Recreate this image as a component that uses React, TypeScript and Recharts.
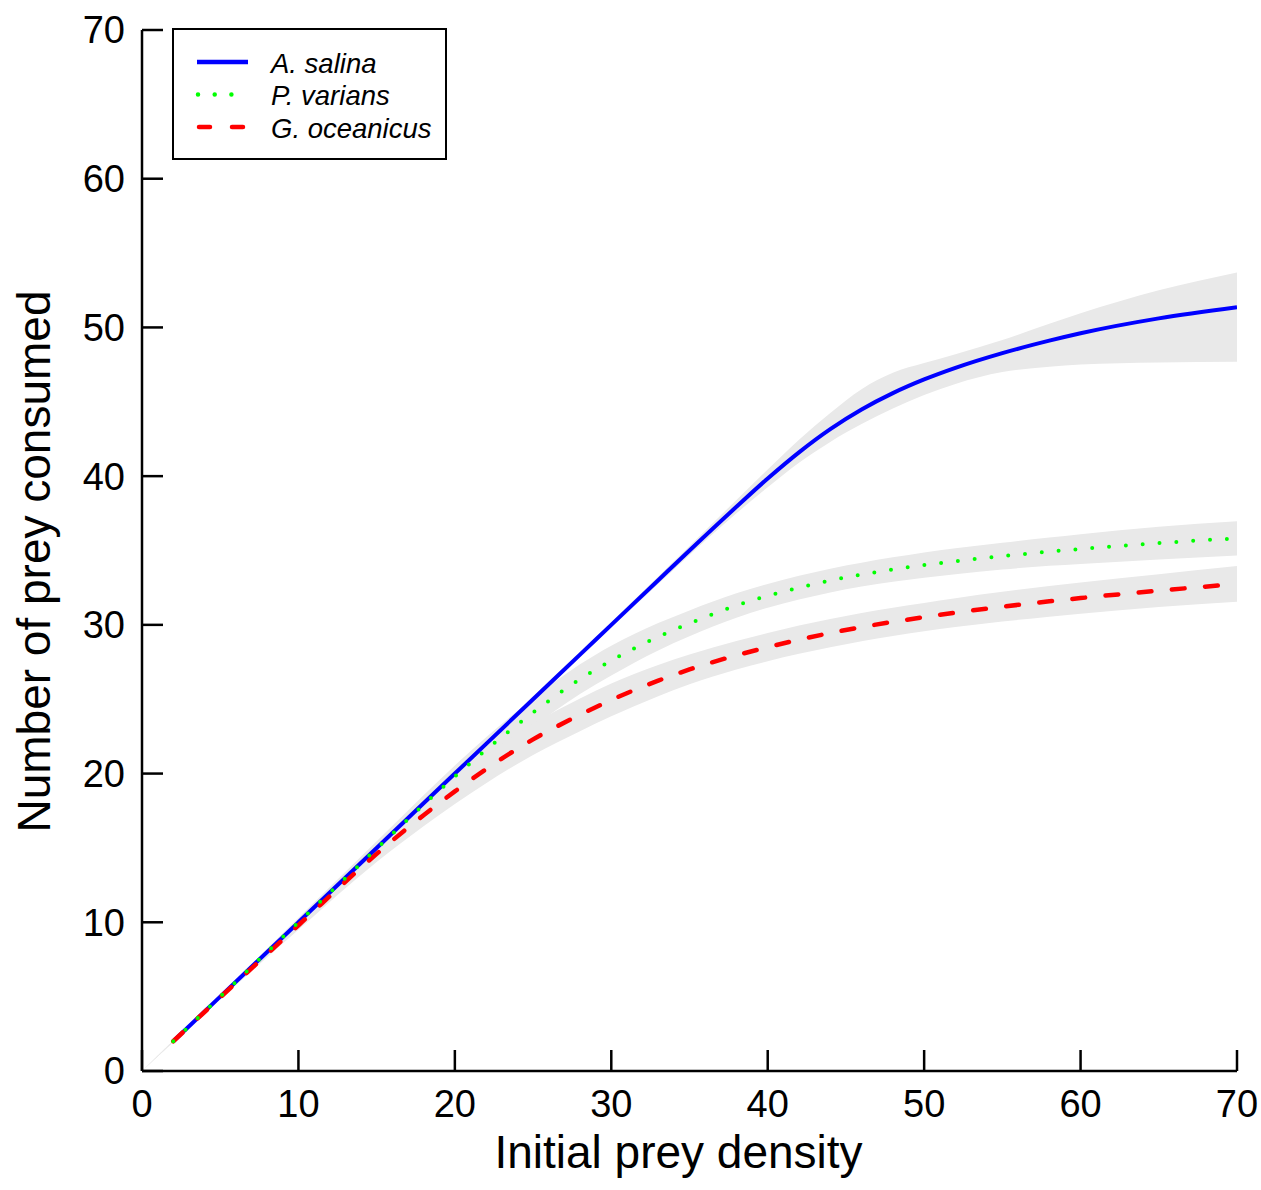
import React from 'react';
import { ComposedChart, Line, Area, XAxis, YAxis, Legend } from 'recharts';

// Initial prey density (x)
const densities = [0, 2, 5, 10, 15, 18, 20, 22, 25, 28, 30, 33, 35, 38, 40, 42, 44, 46, 48, 50, 52, 55, 58, 60, 65, 70];

// A. salina fitted curve and confidence band
const aSalina = [null, 2, 5, 10, 15, 18, 20, 22, 25, 28, 30, 33, 35, 37.94, 39.84, 41.6, 43.16, 44.48, 45.58, 46.5, 47.28, 48.27, 49.11, 49.61, 50.61, 51.36];
const aSalinaLo = [0, 1.95, 4.9, 9.85, 14.8, 17.8, 19.8, 21.8, 24.8, 27.8, 29.8, 32.75, 34.7, 37.5, 39.25, 40.9, 42.3, 43.5, 44.55, 45.45, 46.2, 47.0, 47.35, 47.5, 47.65, 47.7];
const aSalinaHi = [0, 2.05, 5.1, 10.15, 15.2, 18.2, 20.2, 22.2, 25.2, 28.2, 30.2, 33.25, 35.3, 38.4, 40.45, 42.45, 44.25, 45.85, 46.95, 47.6, 48.2, 49.15, 50.25, 50.95, 52.5, 53.7];

// P. varians fitted curve and confidence band
const pVarians = [null, 2, 5, 10, 14.95, 17.9, 19.8, 21.6, 24.1, 26.35, 27.6, 29.2, 30.1, 31.3, 31.95, 32.5, 32.98, 33.38, 33.72, 34.02, 34.28, 34.62, 34.92, 35.1, 35.5, 35.82];
const pVariansLo = [0, 1.95, 4.88, 9.7, 14.45, 17.25, 19.05, 20.75, 23.15, 25.35, 26.6, 28.28, 29.23, 30.48, 31.15, 31.7, 32.18, 32.58, 32.9, 33.17, 33.41, 33.72, 33.97, 34.1, 34.4, 34.67];
const pVariansHi = [0, 2.05, 5.12, 10.3, 15.45, 18.55, 20.55, 22.45, 25.05, 27.35, 28.6, 30.12, 30.97, 32.12, 32.75, 33.3, 33.78, 34.18, 34.54, 34.87, 35.15, 35.52, 35.87, 36.1, 36.6, 36.97];

// G. oceanicus fitted curve and confidence band
const gOceanicus = [null, 2, 4.95, 9.8, 14.6, 17.2, 18.8, 20.3, 22.3, 23.95, 24.95, 26.25, 27.0, 27.95, 28.5, 29.0, 29.45, 29.85, 30.2, 30.52, 30.82, 31.22, 31.58, 31.8, 32.3, 32.75];
const gOceanicusLo = [0, 1.95, 4.83, 9.5, 14.05, 16.45, 17.95, 19.35, 21.25, 22.85, 23.85, 25.2, 26.0, 26.99, 27.55, 28.05, 28.5, 28.9, 29.25, 29.57, 29.85, 30.22, 30.55, 30.75, 31.2, 31.55];
const gOceanicusHi = [0, 2.05, 5.07, 10.1, 15.15, 17.95, 19.65, 21.25, 23.35, 25.05, 26.05, 27.3, 28.0, 28.91, 29.45, 29.95, 30.4, 30.8, 31.15, 31.47, 31.79, 32.22, 32.61, 32.85, 33.4, 33.95];

const xTicks = [0, 10, 20, 30, 40, 50, 60, 70];
const yTicks = [0, 10, 20, 30, 40, 50, 60, 70];

const legendItems = [
  { name: 'A. salina', color: '#0000ff', dash: undefined as string | undefined, cap: 'butt' as const, x1: 25, x2: 76 },
  { name: 'P. varians', color: '#00ff00', dash: '0 16.7', cap: 'round' as const, x1: 26, x2: 60.5 },
  { name: 'G. oceanicus', color: '#ff0000', dash: '11 22', cap: 'round' as const, x1: 27, x2: 72 },
];

const rows = densities.map((x, i) => ({
  x,
  aSalina: aSalina[i],
  pVarians: pVarians[i],
  gOceanicus: gOceanicus[i],
  aSalinaBand: [aSalinaLo[i], aSalinaHi[i]],
  pVariansBand: [pVariansLo[i], pVariansHi[i]],
  gOceanicusBand: [gOceanicusLo[i], gOceanicusHi[i]],
}));

const FONT = '"Liberation Sans", Arial, Helvetica, sans-serif';
const BAND = '#e9e9e9';

const XTitle = (props: any) => {
  const vb = props.viewBox || {};
  const cx = vb.x + vb.width / 2 - 11;
  const y = vb.y + 97;
  return (
    <text x={cx} y={y} textAnchor="middle" fontSize={46} fontFamily={FONT} fill="#000">
      Initial prey density
    </text>
  );
};

const YTitle = (props: any) => {
  const vb = props.viewBox || {};
  const cy = vb.y + vb.height / 2 + 11;
  const x = 50;
  return (
    <text x={x} y={cy} textAnchor="middle" fontSize={46} fontFamily={FONT} fill="#000" transform={`rotate(-90, ${x}, ${cy})`}>
      Number of prey consumed
    </text>
  );
};

const LegendBox = () => (
  <svg width={276} height={132} style={{ display: 'block' }}>
    <rect x={1} y={1} width={273} height={130} fill="#fff" stroke="#000" strokeWidth={2} />
    {legendItems.map((s, i) => (
      <g key={s.name}>
        <line
          x1={s.x1}
          x2={s.x2}
          y1={34 + i * 32.5}
          y2={34 + i * 32.5}
          stroke={s.color}
          strokeWidth={4.5}
          strokeDasharray={s.dash}
          strokeLinecap={s.cap}
        />
        <text x={99} y={44.5 + i * 32.5} fontSize={27.5} fontStyle="italic" fontFamily={FONT} fill="#000">
          {s.name}
        </text>
      </g>
    ))}
  </svg>
);

export default function App() {
  return (
    <div style={{ position: 'absolute', left: 0, top: 0, width: 1261, height: 1190, background: '#fff' }}>
      <ComposedChart
        width={1261}
        height={1190}
        data={rows}
        margin={{ top: 30, right: 24, bottom: 0, left: 0 }}
      >
        <XAxis
          type="number"
          dataKey="x"
          domain={[0, 70]}
          ticks={xTicks}
          interval={0}
          height={119}
          tickSize={-21}
          tickMargin={40}
          allowDataOverflow
          axisLine={{ stroke: '#000', strokeWidth: 2.5 }}
          tickLine={{ stroke: '#000', strokeWidth: 2.5 }}
          tick={{ fontSize: 38, fill: '#000', fontFamily: FONT }}
          label={<XTitle />}
        />
        <YAxis
          type="number"
          domain={[0, 70]}
          ticks={yTicks}
          interval={0}
          width={142}
          tickSize={-21}
          tickMargin={38}
          allowDataOverflow
          axisLine={{ stroke: '#000', strokeWidth: 2.5 }}
          tickLine={{ stroke: '#000', strokeWidth: 2.5 }}
          tick={{ fontSize: 38, fill: '#000', fontFamily: FONT }}
          label={<YTitle />}
        />
        <Legend
          layout="horizontal"
          verticalAlign="middle"
          align="center"
          wrapperStyle={{ left: 172, top: 28, width: 276, height: 132 }}
          content={() => <LegendBox />}
        />
        <Area type="monotone" dataKey="aSalinaBand" stroke="none" fill={BAND} fillOpacity={1} isAnimationActive={false} legendType="none" activeDot={false} />
        <Area type="monotone" dataKey="pVariansBand" stroke="none" fill={BAND} fillOpacity={1} isAnimationActive={false} legendType="none" activeDot={false} />
        <Area type="monotone" dataKey="gOceanicusBand" stroke="none" fill={BAND} fillOpacity={1} isAnimationActive={false} legendType="none" activeDot={false} />
        <Line type="monotone" dataKey="aSalina" name="A. salina" stroke="#0000ff" strokeWidth={4} dot={false} activeDot={false} isAnimationActive={false} />
        <Line type="monotone" dataKey="gOceanicus" name="G. oceanicus" stroke="#ff0000" strokeWidth={4.5} strokeDasharray="12.8 20.5" strokeLinecap="round" dot={false} activeDot={false} isAnimationActive={false} />
        <Line type="monotone" dataKey="pVarians" name="P. varians" stroke="#00ff00" strokeWidth={4} strokeDasharray="0 16.87" strokeLinecap="round" dot={false} activeDot={false} isAnimationActive={false} />
      </ComposedChart>
    </div>
  );
}
